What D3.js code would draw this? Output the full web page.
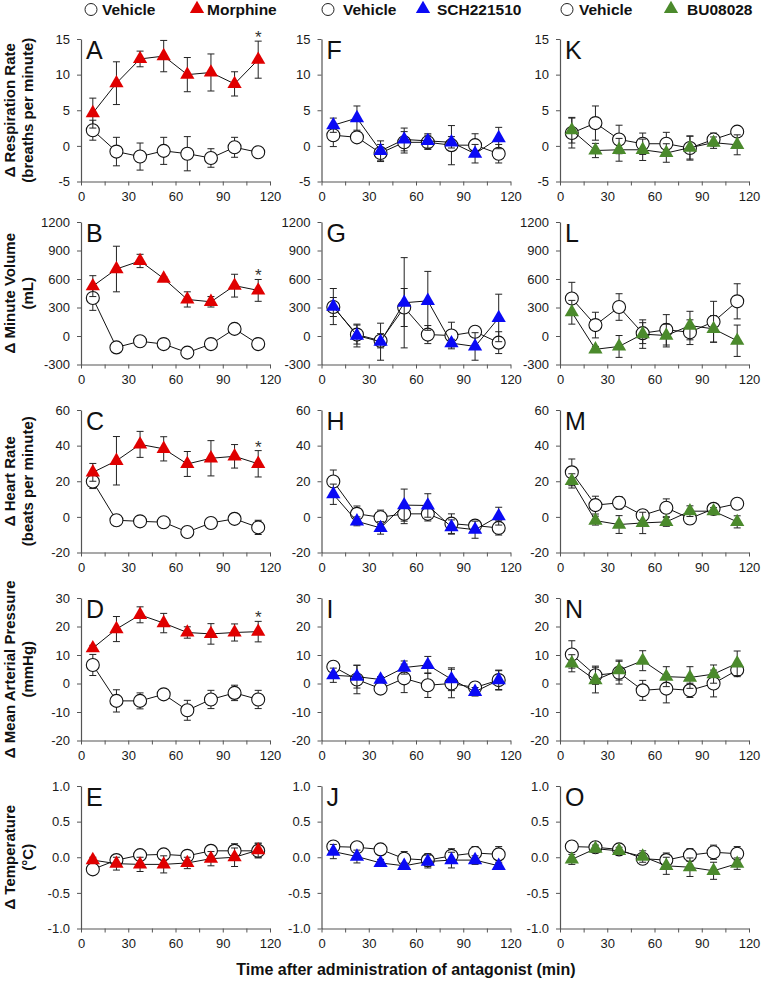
<!DOCTYPE html>
<html>
<head>
<meta charset="utf-8">
<title>Antagonist time course panels</title>
<script src="https://d3js.org/d3.v7.min.js"></script>
<style>
  body { margin: 0; background: #fff; }
  svg { display: block; font-family: Arial, "Liberation Sans", sans-serif; }
</style>
</head>
<body>
<div id="chart"></div>
<script>
// sampling times (min) and axis ticks
var times = [7.5, 22.5, 37.5, 52.5, 67.5, 82.5, 97.5, 112.5];
var xTicks = [0, 15, 30, 45, 60, 75, 90, 105, 120];
var drugNames = ["Morphine", "SCH221510", "BU08028"];
var panelLetters = [["A", "B", "C", "D", "E"], ["F", "G", "H", "I", "J"], ["K", "L", "M", "N", "O"]];
var rowTitles = [
  ["\u0394 Respiration Rate", "(breaths per minute)"],
  ["\u0394 Minute Volume", "(mL)"],
  ["\u0394 Heart Rate", "(beats per minute)"],
  ["\u0394 Mean Arterial Pressure", "(mmHg)"],
  ["\u0394 Temperature", "(\u00b0C)"]
];
var rowDomains = [[-5, 15], [-300, 1200], [-20, 60], [-20, 30], [-1, 1]];
var rowTicks = [
  [-5, 0, 5, 10, 15],
  [-300, 0, 300, 600, 900, 1200],
  [-20, 0, 20, 40, 60],
  [-20, -10, 0, 10, 20, 30],
  [-1, -0.5, 0, 0.5, 1]
];
var starPanels = ["A", "B", "C", "D"];

// ---- Morphine column ----
var drugA = [4.6, 8.8, 12.2, 12.6, 10.0, 10.3, 8.7, 12.1];
var drugA_se = [2.1, 3.0, 1.1, 2.2, 2.4, 2.6, 1.7, 2.6];
var vehA = [2.2, -0.8, -1.5, -0.7, -1.1, -1.7, -0.2, -0.9];
var vehA_se = [1.4, 2.0, 1.9, 1.9, 2.4, 1.3, 1.4, 0.5];

var drugB = [525, 705, 790, 605, 385, 360, 530, 480];
var drugB_se = [110, 240, 70, 20, 80, 55, 120, 115];
var vehB = [400, -120, -55, -85, -175, -85, 75, -85];
var vehB_se = [130, 20, 20, 15, 15, 15, 55, 20];

var drugC = [25.0, 31.5, 40.7, 38.2, 29.7, 32.9, 34.0, 29.8];
var drugC_se = [5.0, 13.6, 7.3, 6.8, 7.0, 9.9, 6.6, 7.4];
var vehC = [19.9, -1.9, -2.5, -3.0, -8.5, -3.4, -1.1, -5.9];
var vehC_se = [4.0, 3.0, 1.0, 1.0, 1.0, 2.0, 3.0, 4.0];

var drugD = [12.4, 19.1, 24.1, 21.2, 17.9, 17.4, 17.9, 18.2];
var drugD_se = [1.0, 4.4, 2.8, 3.4, 2.0, 3.6, 3.0, 3.6];
var vehD = [6.5, -6.1, -6.1, -3.8, -9.4, -5.6, -3.3, -5.6];
var vehD_se = [3.7, 3.9, 2.8, 1.5, 3.5, 3.2, 2.7, 3.2];

var drugE = [-0.04, -0.09, -0.10, -0.10, -0.08, -0.02, 0.00, 0.10];
var drugE_se = [0.04, 0.09, 0.10, 0.12, 0.08, 0.10, 0.13, 0.10];
var vehE = [-0.17, -0.04, 0.03, 0.04, 0.02, 0.09, 0.09, 0.09];
var vehE_se = [0.05, 0.03, 0.03, 0.03, 0.03, 0.03, 0.10, 0.10];

// ---- SCH221510 column ----
var drugF = [2.9, 3.9, -0.7, 0.9, 0.7, 0.5, -1.1, 1.1];
var drugF_se = [1.0, 1.7, 1.4, 1.6, 1.0, 0.8, 1.3, 1.5];
var vehF = [1.5, 1.2, -1.0, 0.5, 0.5, 0.1, 0.1, -1.1];
var vehF_se = [1.6, 0.4, 1.2, 1.5, 1.0, 2.75, 1.6, 1.3];

var drugG = [310, 5, -60, 350, 370, -75, -110, 190];
var drugG_se = [190, 120, 195, 475, 310, 40, 145, 250];
var vehG = [305, 15, -50, 300, 15, 5, 45, -70];
var vehG_se = [100, 100, 75, 200, 95, 140, 40, 115];

var drugH = [12.7, -2.5, -6.2, 6.6, 6.4, -5.7, -7.2, 0.4];
var drugH_se = [5.7, 2.5, 3.5, 9.0, 6.6, 4.0, 4.8, 5.0];
var vehH = [19.9, 1.7, -0.2, 1.7, 1.7, -3.8, -4.9, -6.2];
var vehH_se = [6.4, 4.4, 4.0, 5.5, 4.0, 5.5, 2.0, 4.0];

var drugI = [2.9, 2.4, 1.4, 5.6, 6.5, 1.5, -2.9, 1.2];
var drugI_se = [2.5, 4.0, 1.0, 2.3, 3.0, 4.0, 1.5, 3.5];
var vehI = [5.9, 1.4, -1.8, 1.8, -0.6, 0.0, -1.4, 1.2];
var vehI_se = [1.0, 5.0, 1.0, 5.0, 4.3, 5.0, 1.4, 3.3];

var drugJ = [0.08, 0.01, -0.08, -0.12, -0.06, -0.04, -0.04, -0.12];
var drugJ_se = [0.10, 0.09, 0.05, 0.04, 0.09, 0.11, 0.06, 0.03];
var vehJ = [0.15, 0.14, 0.11, -0.02, -0.04, 0.02, 0.06, 0.04];
var vehJ_se = [0.03, 0.03, 0.03, 0.10, 0.09, 0.10, 0.09, 0.11];

// ---- BU08028 column ----
var drugK = [2.2, -0.65, -0.55, -0.55, -1.0, -0.25, 0.45, 0.15];
var drugK_se = [1.8, 1.0, 1.6, 1.5, 1.3, 1.6, 0.8, 1.4];
var vehK = [1.8, 3.2, 0.9, 0.3, 0.3, -0.3, 0.9, 2.0];
var vehK_se = [2.1, 2.4, 2.0, 1.5, 1.6, 1.7, 0.9, 0.5];

var drugL = [250, -140, -110, 20, 5, 110, 75, -50];
var drugL_se = [125, 30, 115, 150, 120, 150, 140, 165];
var vehL = [395, 115, 305, 30, 65, 40, 150, 365];
var vehL_se = [170, 135, 140, 110, 160, 130, 215, 185];

var drugM = [20.2, -2.1, -4.3, -3.4, -2.8, 3.2, 3.2, -2.8];
var drugM_se = [4.0, 2.5, 5.0, 6.0, 2.5, 3.0, 2.0, 3.4];
var vehM = [25.0, 6.6, 7.9, 0.9, 5.1, -0.9, 4.5, 7.4];
var vehM_se = [7.5, 5.0, 3.5, 3.0, 5.0, 3.0, 3.0, 1.5];

var drugN = [7.1, 1.2, 4.7, 8.0, 2.4, 2.1, 3.3, 7.1];
var drugN_se = [3.0, 4.5, 3.5, 3.5, 3.5, 3.8, 3.2, 4.3];
var vehN = [10.2, 2.9, 3.8, -2.4, -1.8, -2.4, 0.0, 4.7];
var vehN_se = [4.8, 3.2, 4.0, 3.5, 5.0, 2.5, 4.7, 2.3];

var drugO = [-0.03, 0.12, 0.09, 0.01, -0.12, -0.14, -0.19, -0.09];
var drugO_se = [0.07, 0.05, 0.05, 0.08, 0.12, 0.13, 0.12, 0.08];
var vehO = [0.15, 0.14, 0.11, -0.02, -0.04, 0.03, 0.07, 0.05];
var vehO_se = [0.02, 0.04, 0.04, 0.06, 0.10, 0.09, 0.10, 0.10];

// layout
var W = 762, H = 982;
var colLeft = [81, 321.5, 560];
var rowTop = [39, 222, 410, 598, 786];
var pw = 189, ph = 142.5;
var drugColors = ["#e00000", "#0a0af5", "#4b8a2c"];
var axisColor = "#555";

var series = {
  A: [vehA, vehA_se, drugA, drugA_se], B: [vehB, vehB_se, drugB, drugB_se],
  C: [vehC, vehC_se, drugC, drugC_se], D: [vehD, vehD_se, drugD, drugD_se],
  E: [vehE, vehE_se, drugE, drugE_se], F: [vehF, vehF_se, drugF, drugF_se],
  G: [vehG, vehG_se, drugG, drugG_se], H: [vehH, vehH_se, drugH, drugH_se],
  I: [vehI, vehI_se, drugI, drugI_se], J: [vehJ, vehJ_se, drugJ, drugJ_se],
  K: [vehK, vehK_se, drugK, drugK_se], L: [vehL, vehL_se, drugL, drugL_se],
  M: [vehM, vehM_se, drugM, drugM_se], N: [vehN, vehN_se, drugN, drugN_se],
  O: [vehO, vehO_se, drugO, drugO_se]
};

var svg = d3.select("#chart").append("svg")
  .attr("width", W).attr("height", H);

var x = d3.scaleLinear().domain([0, 120]).range([0, pw]);
var tri = d3.symbol().type(d3.symbolTriangle).size(88);

// legends
var legendPos = [[91, 102, 197, 207], [328, 343, 423, 437], [567, 579, 671, 687]];
legendPos.forEach(function(p, c) {
  var lg = svg.append("g");
  lg.append("circle").attr("cx", p[0]).attr("cy", 9.5).attr("r", 6)
    .attr("fill", "#fff").attr("stroke", "#222").attr("stroke-width", 1);
  lg.append("text").attr("x", p[1]).attr("y", 15).text("Vehicle")
    .attr("font-size", 15.5).attr("font-weight", "bold").attr("fill", "#111");
  lg.append("path").attr("d", tri).attr("transform", "translate(" + p[2] + ",9)")
    .attr("fill", drugColors[c]);
  lg.append("text").attr("x", p[3]).attr("y", 15).text(drugNames[c])
    .attr("font-size", 15.5).attr("font-weight", "bold").attr("fill", "#111");
});

// y-axis titles (one per row)
rowTitles.forEach(function(t, r) {
  var cy = rowTop[r] + ph / 2;
  var g = svg.append("g").attr("font-size", 15).attr("font-weight", "bold")
    .attr("fill", "#111").attr("text-anchor", "middle");
  g.append("text").attr("transform", "translate(15," + cy + ") rotate(-90)").text(t[0]);
  g.append("text").attr("transform", "translate(33," + cy + ") rotate(-90)").text(t[1]);
});

function fmtRow(r) {
  if (r === 4) return function(d) { return d.toFixed(1); };
  return function(d) { return String(d); };
}

for (var c = 0; c < 3; c++) {
  for (var r = 0; r < 5; r++) {
    var letter = panelLetters[c][r];
    var s = series[letter];
    var y = d3.scaleLinear().domain(rowDomains[r]).range([ph, 0]);
    var g = svg.append("g").attr("transform", "translate(" + colLeft[c] + "," + rowTop[r] + ")");

    // axes
    var ya = g.append("g").call(d3.axisLeft(y).tickValues(rowTicks[r]).tickFormat(fmtRow(r))
      .tickSize(4).tickSizeOuter(0).tickPadding(7));
    var xa = g.append("g").attr("transform", "translate(0," + ph + ")")
      .call(d3.axisBottom(x).tickValues(xTicks)
        .tickFormat(function(d) { return d % 30 === 0 ? d : ""; })
        .tickSize(4).tickSizeOuter(0).tickPadding(6));
    [ya, xa].forEach(function(a) {
      a.select(".domain").attr("stroke", axisColor).attr("stroke-width", 1.2);
      a.selectAll(".tick line").attr("stroke", axisColor);
      a.selectAll("text").attr("font-size", 13).attr("fill", "#1a1a1a")
        .attr("font-family", "Arial, 'Liberation Sans', sans-serif");
    });

    // panel letter
    g.append("text").attr("x", 5).attr("y", 20).text(letter)
      .attr("font-size", 25).attr("fill", "#111");

    var groups = [
      { vals: s[0], se: s[1], kind: "veh" },
      { vals: s[2], se: s[3], kind: "drug" }
    ];
    groups.forEach(function(grp) {
      var pts = times.map(function(t, i) { return { t: t, v: grp.vals[i], e: grp.se[i] }; });
      // error bars
      var eb = g.append("g").attr("stroke", "#222").attr("stroke-width", 1);
      pts.forEach(function(p) {
        var cx = x(p.t), top = y(p.v + p.e), bot = y(p.v - p.e);
        eb.append("line").attr("x1", cx).attr("x2", cx).attr("y1", top).attr("y2", bot);
        eb.append("line").attr("x1", cx - 3.5).attr("x2", cx + 3.5).attr("y1", top).attr("y2", top);
        eb.append("line").attr("x1", cx - 3.5).attr("x2", cx + 3.5).attr("y1", bot).attr("y2", bot);
      });
      // connecting line
      g.append("path").datum(pts)
        .attr("d", d3.line().x(function(d) { return x(d.t); }).y(function(d) { return y(d.v); }))
        .attr("fill", "none").attr("stroke", "#111").attr("stroke-width", 1);
      // markers
      if (grp.kind === "veh") {
        g.selectAll(null).data(pts).enter().append("circle")
          .attr("cx", function(d) { return x(d.t); })
          .attr("cy", function(d) { return y(d.v); })
          .attr("r", 6.5).attr("fill", "#fff").attr("stroke", "#111").attr("stroke-width", 1.1);
      } else {
        g.selectAll(null).data(pts).enter().append("path")
          .attr("d", tri)
          .attr("transform", function(d) { return "translate(" + x(d.t) + "," + y(d.v) + ")"; })
          .attr("fill", drugColors[c]);
      }
    });

    // significance asterisk over the last morphine point
    if (starPanels.indexOf(letter) >= 0) {
      var li = times.length - 1;
      g.append("text").attr("x", x(times[li])).attr("y", y(s[2][li] + s[3][li]) + 2)
        .attr("text-anchor", "middle").attr("font-size", 17).attr("fill", "#333").text("*");
    }
  }
}

// shared x-axis title
svg.append("text").attr("x", 406).attr("y", 975).attr("text-anchor", "middle")
  .attr("font-size", 16).attr("font-weight", "bold").attr("fill", "#111")
  .text("Time after administration of antagonist (min)");
</script>
</body>
</html>
